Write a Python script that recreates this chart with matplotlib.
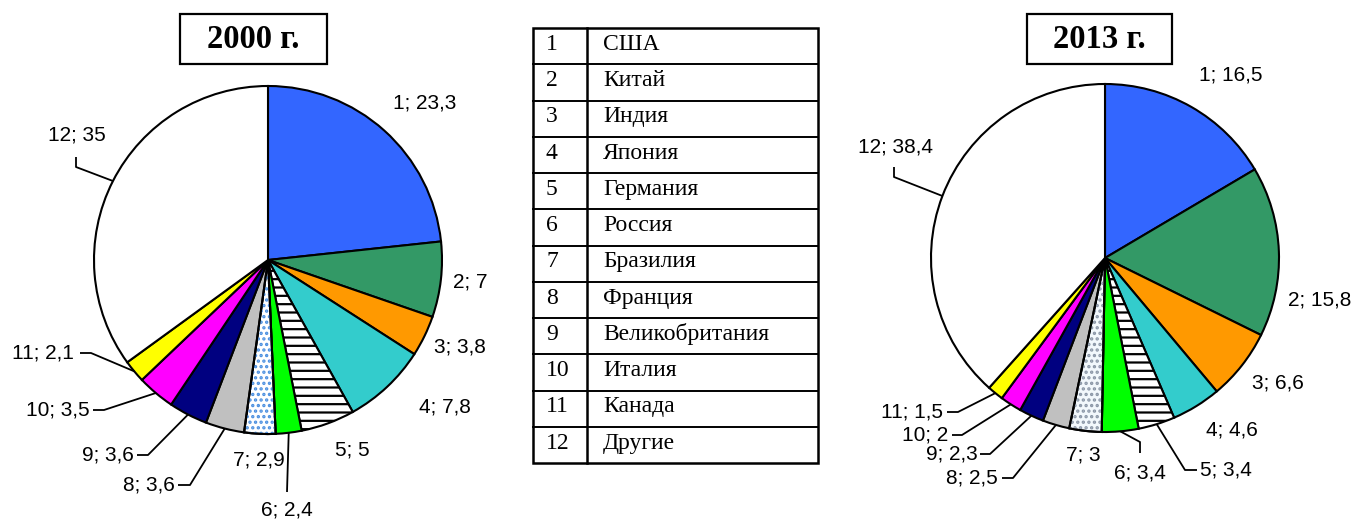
import matplotlib.pyplot as plt
import numpy as np
from matplotlib.patches import Rectangle, Wedge

# ---------------- data ----------------
countries = ['США', 'Китай', 'Индия', 'Япония', 'Германия', 'Россия', 'Бразилия',
             'Франция', 'Великобритания', 'Италия', 'Канада', 'Другие']
share_2000 = [23.3, 7, 3.8, 7.8, 5, 2.4, 2.9, 3.6, 3.6, 3.5, 2.1, 35]
share_2013 = [16.5, 15.8, 6.6, 4.6, 3.4, 3.4, 3, 2.5, 2.3, 2, 1.5, 38.4]

colors = ['#3366FF', '#339966', '#FF9900', '#33CCCC', '#FFFFFF', '#00FF00',
          '#FFFFFF', '#C0C0C0', '#000080', '#FF00FF', '#FFFF00', '#FFFFFF']

W, H = 1357, 520
fig = plt.figure(figsize=(W / 100, H / 100), dpi=100)
ax = fig.add_axes([0, 0, 1, 1])
plt.rcParams['hatch.linewidth'] = 1.6

SANS = 'Liberation Sans'
SERIF = 'Liberation Serif'
EDGE = 1.5


def Y(y):
    # layout positions below are measured from the top of the picture
    return H - y


# label positions (text centre) and leader lines: end near text, elbow
left_pos = [(425, 103), (470, 282), (460, 347), (445, 407), (352, 450), (287, 510),
            (259, 460), (149, 485), (108, 455), (58, 410), (43, 353), (77, 135)]
left_lead = {11: [(76, 157), (76, 167)], 10: [(80, 353), (91, 353)],
             9: [(93, 410), (104, 410)], 8: [(137, 455), (148, 455)],
             7: [(178, 485), (190, 485)], 5: [(287, 492), (287, 492)]}
right_pos = [(1231, 75), (1320, 300), (1278, 383), (1232, 430), (1226, 470), (1140, 473),
             (1083, 455), (972, 478), (952, 454), (925, 435), (912, 412), (896, 147)]
right_lead = {11: [(894, 167), (894, 177)], 10: [(947, 412), (958, 412)],
              9: [(952, 435), (962, 435)], 8: [(980, 454), (990, 454)],
              7: [(1002, 478), (1013, 478)], 5: [(1140, 453), (1140, 442)],
              4: [(1197, 470), (1185, 470)]}


def draw_pie(values, cx, cy, r, pos, lead, dot_face, dot_color):
    cols = list(colors)
    cols[6] = dot_face
    wedges, _ = ax.pie(values, colors=cols, startangle=90, counterclock=False,
                       center=(cx, Y(cy)), radius=r,
                       wedgeprops=dict(edgecolor='black', linewidth=EDGE))
    # horizontal lines for Germany
    wedges[4].set_hatch('--')
    # dotted fill for Brazil
    w = wedges[6]
    ax.add_patch(Wedge((cx, Y(cy)), r, w.theta1, w.theta2, facecolor='none',
                       edgecolor=dot_color, linewidth=0, hatch='...', zorder=w.get_zorder() + 0.1))
    ax.add_patch(Wedge((cx, Y(cy)), r, w.theta1, w.theta2, facecolor='none',
                       edgecolor='black', linewidth=EDGE, zorder=w.get_zorder() + 0.2))

    for i, (w, v) in enumerate(zip(wedges, values)):
        txt = f'{i + 1}; ' + f'{v:g}'.replace('.', ',')
        tx, ty = pos[i]
        ax.text(tx, Y(ty), txt, ha='center', va='center', fontsize=15,
                family=SANS, color='black')
        if i in lead:
            mid = np.deg2rad((w.theta1 + w.theta2) / 2)
            ex, ey = cx + r * np.cos(mid), Y(cy) + r * np.sin(mid)
            (x0, y0), (x1, y1) = lead[i]
            ax.plot([x0, x1, ex], [Y(y0), Y(y1), ey], color='black', lw=1.3,
                    solid_capstyle='butt', zorder=5)


draw_pie(share_2000, 268, 260, 174, left_pos, left_lead, '#FFFFFF', '#4A8FE0')
draw_pie(share_2013, 1105, 258, 174, right_pos, right_lead, '#F2F8FC', '#8A96A6')

# year boxes
for x0, x1, title in [(180, 327, '2000 г.'), (1027, 1172, '2013 г.')]:
    ax.add_patch(Rectangle((x0, Y(64)), x1 - x0, 50, facecolor='white',
                           edgecolor='black', linewidth=1.6, zorder=6))
    ax.text((x0 + x1) / 2, Y(40), title, ha='center', va='center', fontsize=23.5,
            fontweight='bold', family=SERIF, zorder=7)

# table of countries
tx0, tx1, tcol, ty0, ty1 = 533, 818, 587, 28, 463
n = len(countries)
rh = (ty1 - ty0) / n
ax.add_patch(Rectangle((tx0, Y(ty1)), tx1 - tx0, ty1 - ty0, facecolor='none',
                       edgecolor='black', linewidth=1.8))
ax.plot([tcol, tcol], [Y(ty0), Y(ty1)], color='black', lw=1.8)
for k in range(1, n):
    yy = Y(ty0 + k * rh)
    ax.plot([tx0, tx1], [yy, yy], color='black', lw=1.4)
for k, name in enumerate(countries):
    yc = Y(ty0 + (k + 0.45) * rh)
    ax.text(546, yc, str(k + 1), ha='left', va='center', fontsize=17, family=SERIF)
    ax.text(603, yc, name, ha='left', va='center', fontsize=17, family=SERIF)

ax.set_xlim(0, W)
ax.set_ylim(0, H)
ax.set_aspect('equal')
ax.axis('off')

plt.savefig('out.png', dpi=100)
